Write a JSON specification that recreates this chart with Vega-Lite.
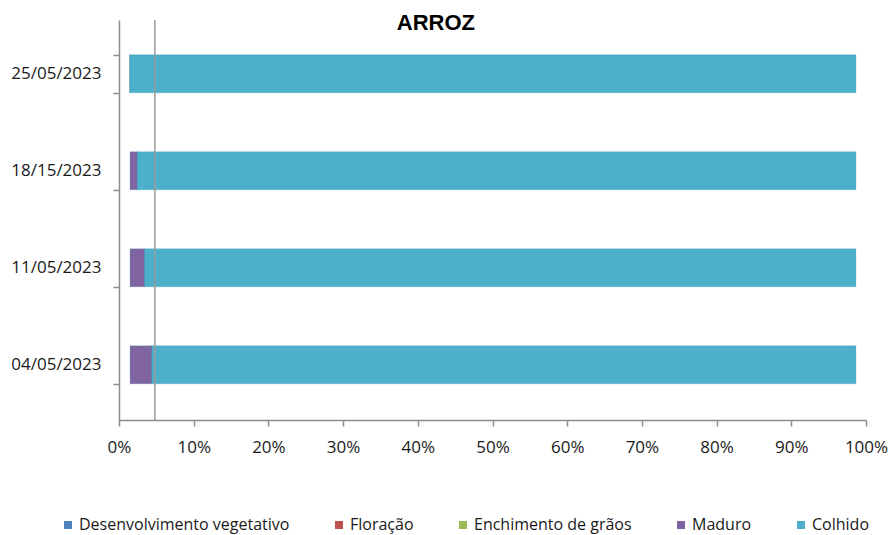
{
  "$schema": "https://vega.github.io/schema/vega-lite/v6.json",
  "width": 747,
  "height": 400,
  "autosize": {"type": "none"},
  "padding": {"left": 119, "top": 20, "right": 25, "bottom": 115},
  "background": "white",
  "title": {
    "text": "ARROZ",
    "font": "Liberation Sans",
    "fontSize": 22,
    "fontWeight": "bold",
    "color": "#000000",
    "anchor": "start",
    "frame": "bounds",
    "baseline": "top",
    "offset": -24,
    "dx": 386
  },
  "config": {
    "view": {"stroke": null},
    "axis": {"labelFont": "Open Sans", "labelColor": "#1a1a1a", "grid": false}
  },
  "layer": [
    {
      "data": {
        "values": [
          {"date": "25/05/2023", "stage": "Desenvolvimento vegetativo", "value": 0},
          {"date": "25/05/2023", "stage": "Floração", "value": 0},
          {"date": "25/05/2023", "stage": "Enchimento de grãos", "value": 0},
          {"date": "25/05/2023", "stage": "Maduro", "value": 0},
          {"date": "25/05/2023", "stage": "Colhido", "value": 100},
          {"date": "18/15/2023", "stage": "Desenvolvimento vegetativo", "value": 0},
          {"date": "18/15/2023", "stage": "Floração", "value": 0},
          {"date": "18/15/2023", "stage": "Enchimento de grãos", "value": 0},
          {"date": "18/15/2023", "stage": "Maduro", "value": 1},
          {"date": "18/15/2023", "stage": "Colhido", "value": 99},
          {"date": "11/05/2023", "stage": "Desenvolvimento vegetativo", "value": 0},
          {"date": "11/05/2023", "stage": "Floração", "value": 0},
          {"date": "11/05/2023", "stage": "Enchimento de grãos", "value": 0},
          {"date": "11/05/2023", "stage": "Maduro", "value": 2},
          {"date": "11/05/2023", "stage": "Colhido", "value": 98},
          {"date": "04/05/2023", "stage": "Desenvolvimento vegetativo", "value": 0},
          {"date": "04/05/2023", "stage": "Floração", "value": 0},
          {"date": "04/05/2023", "stage": "Enchimento de grãos", "value": 0},
          {"date": "04/05/2023", "stage": "Maduro", "value": 3},
          {"date": "04/05/2023", "stage": "Colhido", "value": 97}
        ]
      },
      "mark": {"type": "bar", "strokeWidth": 0.6, "stroke": "#3d8ea6", "strokeOpacity": 0.4},
      "encoding": {
        "y": {
          "field": "date",
          "type": "nominal",
          "sort": ["25/05/2023", "18/15/2023", "11/05/2023", "04/05/2023"],
          "scale": {"paddingInner": 0.608, "paddingOuter": 0.366, "align": 0.49},
          "axis": {
            "title": null,
            "labelFontSize": 17,
            "labelPadding": 12,
            "tickBand": "extent",
            "tickSize": 6,
            "tickColor": "#8c8c8c",
            "domainColor": "#8c8c8c",
            "domainWidth": 1.5,
            "tickWidth": 1.5
          }
        },
        "x": {
          "field": "value",
          "type": "quantitative",
          "stack": "normalize",
          "scale": {"domain": [-0.0152, 1.0138], "nice": false, "zero": false},
          "axis": null
        },
        "order": {"field": "stage", "sort": "descending"},
        "color": {
          "field": "stage",
          "type": "nominal",
          "sort": ["Desenvolvimento vegetativo", "Floração", "Enchimento de grãos", "Maduro", "Colhido"],
          "scale": {
            "domain": ["Desenvolvimento vegetativo", "Floração", "Enchimento de grãos", "Maduro", "Colhido"],
            "range": ["#4F81BD", "#C0504D", "#9BBB59", "#8064A2", "#4DB0CB"]
          },
          "legend": {
            "title": null,
            "orient": "none",
            "legendX": -59,
            "legendY": 497,
            "direction": "horizontal",
            "symbolType": "square",
            "symbolSize": 64,
            "symbolStrokeWidth": 0,
            "labelFont": "Open Sans",
            "labelFontSize": 16,
            "labelColor": "#1a1a1a",
            "labelLimit": 400,
            "columnPadding": 41,
            "labelOffset": 3
          }
        }
      }
    },
    {
      "data": {"values": [{"wall": 0.048}]},
      "mark": {"type": "rule", "color": "#9a9a9a", "strokeWidth": 1.5},
      "encoding": {
        "x": {
          "field": "wall",
          "type": "quantitative",
          "scale": {"domain": [0, 1], "nice": false},
          "axis": {
            "title": null,
            "format": ".0%",
            "values": [0, 0.1, 0.2, 0.3, 0.4, 0.5, 0.6, 0.7, 0.8, 0.9, 1],
            "labelFontSize": 17,
            "labelPadding": 13,
            "labelFlush": false,
            "tickSize": 6,
            "tickColor": "#8c8c8c",
            "domainColor": "#8c8c8c",
            "domainWidth": 1.5,
            "tickWidth": 1.5
          }
        }
      }
    }
  ],
  "resolve": {"scale": {"x": "independent"}}
}
